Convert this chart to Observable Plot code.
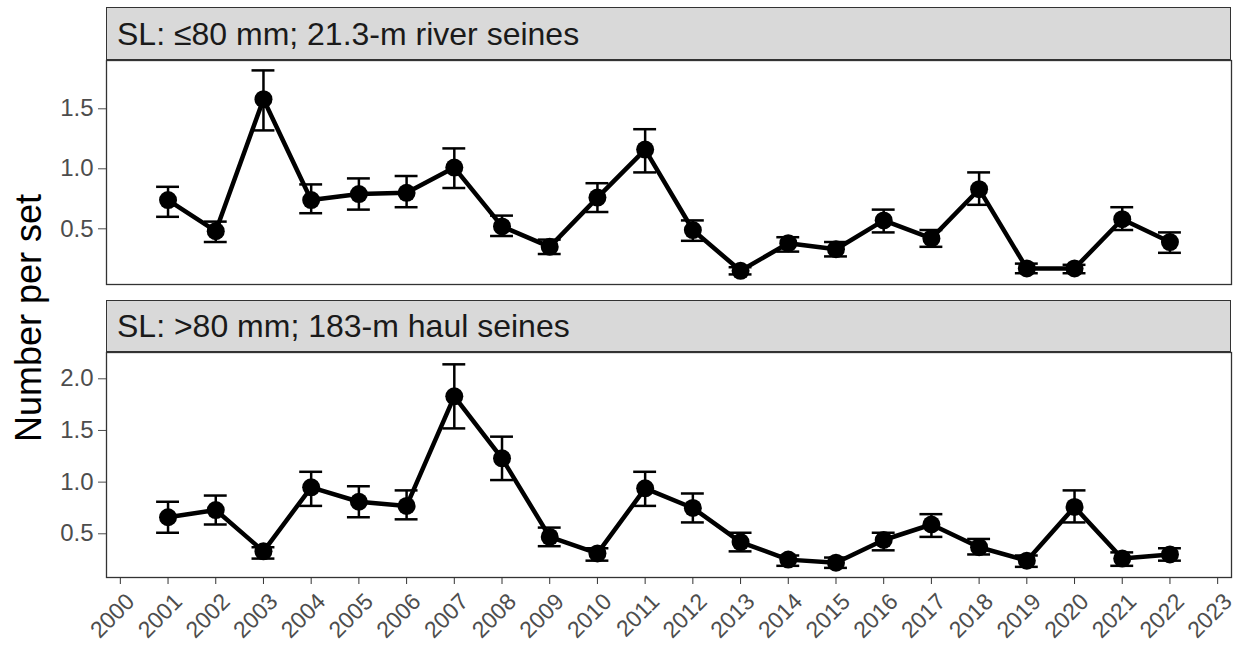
<!DOCTYPE html>
<html><head><meta charset="utf-8">
<script src="https://cdn.jsdelivr.net/npm/d3@7"></script>
<script src="https://cdn.jsdelivr.net/npm/@observablehq/plot@0.6"></script>
<style>
body{margin:0;background:#fff;}
#wrap{position:relative;width:1236px;height:647px;font-family:"Liberation Sans",Arial,sans-serif;overflow:hidden;}
.strip{position:absolute;left:106px;width:1125px;box-sizing:border-box;background:#d9d9d9;border:1.5px solid #333;color:#1a1a1a;font-size:32px;line-height:1;display:flex;align-items:center;padding-left:10px;white-space:nowrap;}
.panel{position:absolute;left:0;}
#ytitle{position:absolute;left:29px;top:318px;transform:translate(-50%,-50%) rotate(-90deg);font-size:36px;white-space:nowrap;color:#000;}
</style></head>
<body>
<div id="wrap">
  <div class="strip" id="strip1" style="top:7px;height:53px;"></div>
  <div class="strip" id="strip2" style="top:300px;height:52px;"></div>
  <div class="panel" id="p1" style="top:59px;"></div>
  <div class="panel" id="p2" style="top:351px;"></div>
  <div id="ytitle"></div>
</div>
<script>
// ---- data ----
const years = [2001,2002,2003,2004,2005,2006,2007,2008,2009,2010,2011,2012,2013,2014,2015,2016,2017,2018,2019,2020,2021,2022];
const tickYears = [2000,2001,2002,2003,2004,2005,2006,2007,2008,2009,2010,2011,2012,2013,2014,2015,2016,2017,2018,2019,2020,2021,2022,2023];
const panelTitles = ["SL: \u226480 mm; 21.3-m river seines", "SL: >80 mm; 183-m haul seines"];
const yTitle = "Number per set";
const yTicksTop = [0.5, 1.0, 1.5];
const yTicksBottom = [0.5, 1.0, 1.5, 2.0];

const smallMean = [0.74,0.48,1.58,0.74,0.79,0.80,1.01,0.52,0.35,0.76,1.16,0.49,0.15,0.38,0.33,0.57,0.42,0.83,0.17,0.17,0.58,0.39];
const smallLo   = [0.60,0.39,1.32,0.63,0.66,0.68,0.84,0.44,0.29,0.64,0.97,0.40,0.12,0.31,0.27,0.47,0.35,0.70,0.13,0.13,0.49,0.30];
const smallHi   = [0.85,0.56,1.82,0.87,0.92,0.94,1.17,0.61,0.41,0.88,1.33,0.57,0.18,0.43,0.39,0.66,0.49,0.97,0.21,0.20,0.68,0.47];

const largeMean = [0.66,0.73,0.33,0.95,0.81,0.77,1.83,1.23,0.47,0.31,0.94,0.75,0.42,0.25,0.22,0.44,0.59,0.37,0.24,0.76,0.26,0.30];
const largeLo   = [0.51,0.59,0.26,0.77,0.66,0.64,1.52,1.02,0.38,0.24,0.77,0.61,0.33,0.19,0.17,0.34,0.47,0.30,0.18,0.61,0.19,0.24];
const largeHi   = [0.81,0.87,0.37,1.10,0.96,0.92,2.14,1.44,0.56,0.36,1.10,0.89,0.51,0.29,0.27,0.51,0.69,0.45,0.29,0.92,0.32,0.36];

// ---- layout ----
const W = 1236;
const xDomain = [1999.71, 2023.29];
const capHalf = 0.24;

function panel(mean, lo, hi, yDomain, yTicks, showX, height, marginBottom) {
  const data = years.map((y, i) => ({year: y, mean: mean[i], lo: lo[i], hi: hi[i]}));
  const marks = [
    Plot.frame({stroke: "#333", strokeWidth: 1.3}),
    Plot.axisY({ticks: yTicks, tickFormat: d3.format(".1f"), tickSize: 8, tickPadding: 5, fontSize: 24, color: "#4d4d4d", label: null}),
    Plot.ruleX(data, {x: "year", y1: "lo", y2: "hi", stroke: "#000", strokeWidth: 2.5}),
    Plot.ruleY(data, {x1: d => d.year - capHalf, x2: d => d.year + capHalf, y: "hi", stroke: "#000", strokeWidth: 2.5}),
    Plot.ruleY(data, {x1: d => d.year - capHalf, x2: d => d.year + capHalf, y: "lo", stroke: "#000", strokeWidth: 2.5}),
    Plot.line(data, {x: "year", y: "mean", stroke: "#000", strokeWidth: 4.5}),
    Plot.dot(data, {x: "year", y: "mean", r: 9, fill: "#000", stroke: "none"})
  ];
  if (showX) {
    marks.push(Plot.axisX({ticks: tickYears, tickFormat: () => "", tickSize: 7, color: "#333", label: null}));
    marks.push(Plot.text(tickYears, {x: d => d, text: d => String(d), frameAnchor: "bottom", rotate: -45,
      textAnchor: "end", lineAnchor: "top", dx: 4, dy: 14, fontSize: 23, fill: "#4d4d4d"}));
  }
  return Plot.plot({
    width: W, height,
    marginLeft: 106, marginRight: 5, marginTop: 1, marginBottom,
    style: {fontFamily: '"Liberation Sans", Arial, sans-serif', background: "transparent", overflow: "visible"},
    x: {domain: xDomain, axis: null},
    y: {domain: yDomain, axis: null},
    marks
  });
}

document.getElementById("strip1").textContent = panelTitles[0];
document.getElementById("strip2").textContent = panelTitles[1];
document.getElementById("ytitle").textContent = yTitle;
document.getElementById("p1").appendChild(panel(smallMean, smallLo, smallHi, [0.036, 1.9025], yTicksTop, false, 227, 2));
document.getElementById("p2").appendChild(panel(largeMean, largeLo, largeHi, [0.077, 2.2545], yTicksBottom, true, 296, 70));
</script>
</body></html>
